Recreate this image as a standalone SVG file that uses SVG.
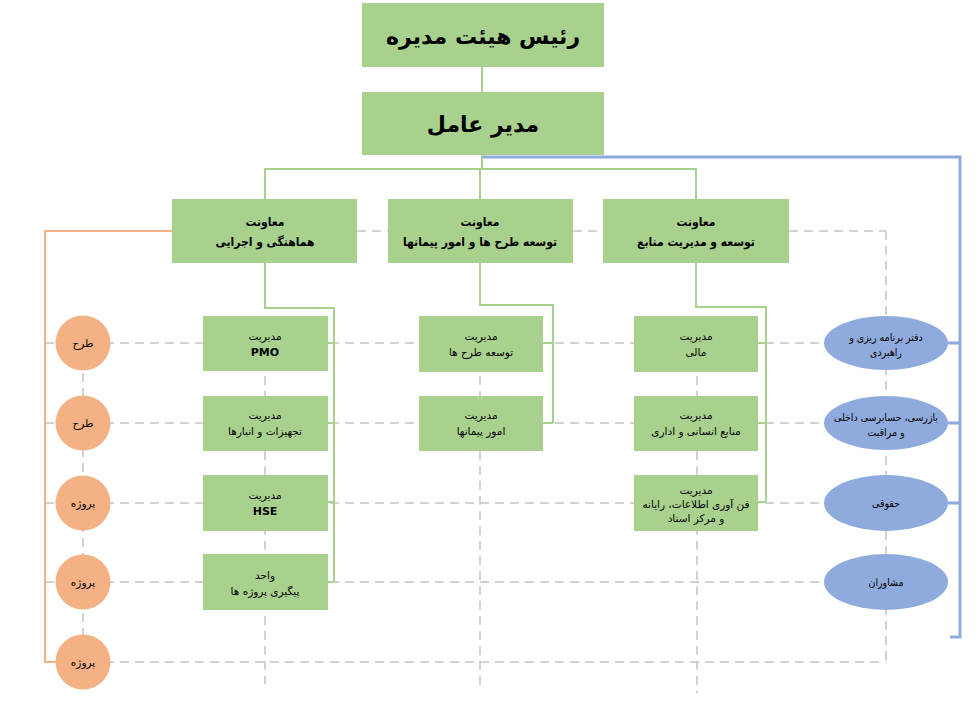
<svg xmlns="http://www.w3.org/2000/svg" width="980" height="713" viewBox="0 0 980 713">
<defs>
<style>
.box{fill:#a9d18e;}
.circ{fill:#f4b183;}
.ell{fill:#8faadc;}
.dash{fill:none;stroke:#c4c4c4;stroke-width:1.5;stroke-dasharray:9 6;}
.gl{fill:none;stroke:#a9d18e;stroke-width:2;}
.bl{fill:none;stroke:#8faadc;stroke-width:3;}
.ol{fill:none;stroke:#f4b183;stroke-width:2;}
text{font-family:"DejaVu Sans","Noto Sans",sans-serif;fill:#000;text-anchor:middle;direction:rtl;}
.t1{font-size:22px;font-weight:bold;}
.t2{font-family:"DejaVu Sans Condensed","DejaVu Sans",sans-serif;font-size:12px;font-weight:bold;}
.t3{font-size:10.5px;}
.t3b{font-size:11px;font-weight:bold;}
.t4{font-size:10.5px;}
.t5{font-family:"DejaVu Sans Condensed","DejaVu Sans",sans-serif;font-size:10.5px;}
</style>
</defs>
<rect width="980" height="713" fill="#ffffff"/>
<g id="connectors">
<path class="dash" d="M45,343 H886 M45,423 H886 M45,503 H886 M45,582 H886 M45,662 H886 M886,231 V662 M357,231 H388 M573,231 H603 M789,231 H886 M83,343 V662 M265,316 V684 M480,316 V690 M697,316 V693"/>
<path class="ol" d="M172,231 H45 V662 H56"/>
<path class="bl" d="M483,157 H960 V637 H950 M948,343 H960 M948,423 H960 M948,503 H960"/>
<path class="gl" d="M482,67 V92 M482,155 V169 M265,199 V169 H696 V199 M480,169 V199"/>
<path class="gl" d="M265,263 V308 H334 V582 M328,343 H334 M328,423 H334 M328,502 H334 M328,582 H334"/>
<path class="gl" d="M480,263 V305 H553 V423 M543,343 H553 M543,423 H553"/>
<path class="gl" d="M696,263 V307 H766 V502 M758,343 H766 M758,423 H766 M758,502 H766"/>
</g>
<g id="chairman"><rect class="box" x="362" y="3" width="242" height="64"/><text class="t1" x="483" y="44">رئیس هیئت مدیره</text></g>
<g id="ceo"><rect class="box" x="362" y="92" width="242" height="63"/><text class="t1" x="483" y="132">مدیر عامل</text></g>
<g id="dep-coord"><rect class="box" x="172" y="199" width="185" height="64"/><text class="t2" x="265" y="226">معاونت</text><text class="t2" x="265" y="246">هماهنگی و اجرایی</text></g>
<g id="dep-dev"><rect class="box" x="388" y="199" width="185" height="64"/><text class="t2" x="480" y="226">معاونت</text><text class="t2" x="480" y="246">توسعه طرح ها و امور پیمانها</text></g>
<g id="dep-res"><rect class="box" x="603" y="199" width="186" height="64"/><text class="t2" x="696" y="226">معاونت</text><text class="t2" x="696" y="246">توسعه و مدیریت منابع</text></g>
<g id="pmo"><rect class="box" x="203" y="316" width="125" height="55"/><text class="t3" x="265" y="340">مدیریت</text><text class="t3b" x="265" y="356">PMO</text></g>
<g id="equip"><rect class="box" x="203" y="396" width="125" height="55"/><text class="t3" x="265" y="419">مدیریت</text><text class="t3" x="265" y="435">تجهیزات و انبارها</text></g>
<g id="hse"><rect class="box" x="203" y="475" width="125" height="56"/><text class="t3" x="265" y="499">مدیریت</text><text class="t3b" x="265" y="515">HSE</text></g>
<g id="followup"><rect class="box" x="203" y="554" width="125" height="56"/><text class="t3" x="265" y="579">واحد</text><text class="t3" x="265" y="595">پیگیری پروژه ها</text></g>
<g id="plan-dev"><rect class="box" x="419" y="316" width="124" height="56"/><text class="t3" x="481" y="340">مدیریت</text><text class="t3" x="481" y="356">توسعه طرح ها</text></g>
<g id="contracts"><rect class="box" x="419" y="396" width="124" height="55"/><text class="t3" x="481" y="419">مدیریت</text><text class="t3" x="481" y="435">امور پیمانها</text></g>
<g id="finance"><rect class="box" x="634" y="316" width="124" height="56"/><text class="t3" x="696" y="340">مدیریت</text><text class="t3" x="696" y="356">مالی</text></g>
<g id="hr"><rect class="box" x="634" y="396" width="124" height="55"/><text class="t3" x="696" y="419">مدیریت</text><text class="t3" x="696" y="435">منابع انسانی و اداری</text></g>
<g id="it"><rect class="box" x="634" y="475" width="124" height="56"/><text class="t3" x="696" y="494">مدیریت</text><text class="t3" x="696" y="508">فن آوری اطلاعات، رایانه</text><text class="t3" x="696" y="522">و مرکز اسناد</text></g>
<g id="c1"><circle class="circ" cx="83" cy="343" r="27.5"/><text class="t4" x="83" y="347">طرح</text></g>
<g id="c2"><circle class="circ" cx="83" cy="423" r="27.5"/><text class="t4" x="83" y="427">طرح</text></g>
<g id="c3"><circle class="circ" cx="83" cy="503" r="27.5"/><text class="t4" x="83" y="507">پروژه</text></g>
<g id="c4"><circle class="circ" cx="83" cy="582" r="27.5"/><text class="t4" x="83" y="586">پروژه</text></g>
<g id="c5"><circle class="circ" cx="83" cy="662" r="27.5"/><text class="t4" x="83" y="666">پروژه</text></g>
<g id="e1"><ellipse class="ell" cx="886" cy="343" rx="62" ry="27"/><text class="t5" x="886" y="341">دفتر برنامه ریزی و</text><text class="t5" x="886" y="356">راهبردی</text></g>
<g id="e2"><ellipse class="ell" cx="886" cy="423" rx="62" ry="27"/><text class="t5" x="886" y="421">بازرسی، حسابرسی داخلی</text><text class="t5" x="886" y="436">و مراقبت</text></g>
<g id="e3"><ellipse class="ell" cx="886" cy="503" rx="62" ry="28"/><text class="t5" x="886" y="507">حقوقی</text></g>
<g id="e4"><ellipse class="ell" cx="886" cy="582" rx="62" ry="28"/><text class="t5" x="886" y="586">مشاوران</text></g>
</svg>
